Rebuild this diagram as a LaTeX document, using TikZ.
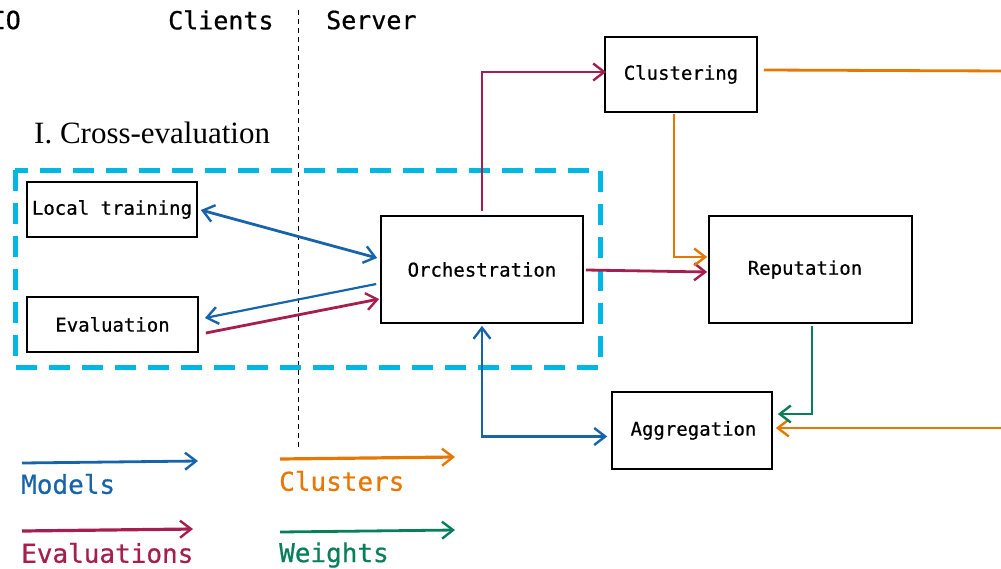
\documentclass[tikz,border=0pt]{standalone}
\usepackage{fontspec}
\usetikzlibrary{arrows.meta,calc}
\newfontfamily\mono{DejaVu Sans Mono}[FakeBold=0.6]
\newfontfamily\serifhead{Liberation Serif}
\definecolor{cmodel}{HTML}{1864AB}
\definecolor{ceval}{HTML}{A61E4D}
\definecolor{cclust}{HTML}{E67700}
\definecolor{cweight}{HTML}{087F5B}
\definecolor{cframe}{RGB}{0,182,226}
\tikzset{
  x=1pt, y=-1pt,
  tip/.tip={Straight Barb[length=11pt,width=17pt,line width=2.4pt]},
  box/.style={draw=black, line width=1.7pt, inner sep=0pt, font=\mono\fontsize{19}{19}\selectfont},
  flow/.style={line width=2.8pt, -tip},
  biflow/.style={line width=2.8pt, tip-tip},
  header/.style={font=\mono\fontsize{25}{25}\selectfont, inner sep=0pt},
  legend/.style={font=\mono\fontsize{26}{26}\selectfont, inner sep=0pt, anchor=west},
}
\begin{document}
\begin{tikzpicture}
\useasboundingbox (0,0) rectangle (1001,568);
\clip (0,0) rectangle (1001,568);

% column headers and the client/server split
\node[header, anchor=east] (io) at (21,20) {IO};
\node[header, anchor=west] (clients) at (168,20) {Clients};
\node[header, anchor=west] (server) at (326,20) {Server};
\coordinate (splittop) at (298,10);
\coordinate (splitbot) at (298,450);
\draw[line width=1pt, dash pattern=on 5pt off 4pt] (splittop) -- (splitbot);

% phase frame
\node[font=\serifhead\fontsize{31}{31}\selectfont, anchor=west, inner sep=0pt] (phase) at (34,133) {I. Cross-evaluation};
\draw[cframe, line width=5pt, dash pattern=on 21pt off 12pt] (15,170) rectangle (600,367);

% components
\node[box, minimum width=170pt, minimum height=55pt] (lt) at (112,209.5) {Local training};
\node[box, minimum width=171pt, minimum height=55pt] (ev) at (112.5,324.5) {Evaluation};
\node[box, minimum width=202pt, minimum height=107pt] (orch) at (482,269.5) {Orchestration};
\node[box, minimum width=152pt, minimum height=75pt] (clus) at (681,74.5) {Clustering};
\node[box, minimum width=203pt, minimum height=107pt] (rep) at (810.5,269.5) {\hspace*{-11pt}Reputation};
\node[box, minimum width=160pt, minimum height=77pt] (agg) at (692,430.5) {\hspace*{3pt}Aggregation};

% loose ends leaving the right border
\coordinate (clusout) at (1005,71);
\coordinate (clusin) at (1005,428);

% models
\draw[biflow, cmodel] ($(lt.east)+(3,0.5)$) -- ($(orch.west)+(-3,-11.5)$);
\draw[flow, cmodel, line width=2.2pt] ($(orch.west)+(-4,14.5)$) -- ($(ev.east)+(6,-6.5)$);
\draw[biflow, cmodel, line width=2.2pt] ($(orch.south)+(0,2)$) |- ($(agg.west)+(-4,6)$);

% evaluations
\draw[flow, ceval] ($(ev.east)+(7,8.5)$) -- ($(orch.west)+(-1,29.5)$);
\draw[flow, ceval] ($(orch.north)+(0,-4)$) |- ($(clus.west)+(2,-2.5)$);
\draw[flow, ceval] ($(orch.east)+(2,0.5)$) -- ($(rep.west)+(-1,2.5)$);

% clusters
\draw[cclust, line width=2.8pt] ($(clus.east)+(6,-4.5)$) -- (clusout);
\draw[flow, cclust, line width=2.2pt] ($(clus.south)+(-7,1)$) |- ($(rep.west)+(-1,-12.5)$);
\draw[flow, cclust] (clusin) -- ($(agg.east)+(3,-2.5)$);

% weights
\draw[flow, cweight, line width=2.2pt] ($(rep.south)+(1.5,2)$) |- ($(agg.east)+(5,-16.5)$);

% legend
\coordinate (lm1) at (22,463); \coordinate (lm2) at (198,461);
\coordinate (le1) at (22,531); \coordinate (le2) at (193,529);
\coordinate (lc1) at (280,459); \coordinate (lc2) at (455,457);
\coordinate (lw1) at (280,532); \coordinate (lw2) at (455,530);
\draw[flow, cmodel] (lm1) -- (lm2);
\draw[flow, ceval, line width=3.2pt] (le1) -- (le2);
\draw[flow, cclust, line width=3.2pt] (lc1) -- (lc2);
\draw[flow, cweight] (lw1) -- (lw2);
\node[legend, text=cmodel] (tm) at (21,484) {Models};
\node[legend, text=ceval] (te) at (21,553) {Evaluations};
\node[legend, text=cclust] (tc) at (279,481) {Clusters};
\node[legend, text=cweight] (tw) at (279,555) {Weights};
\end{tikzpicture}
\end{document}
